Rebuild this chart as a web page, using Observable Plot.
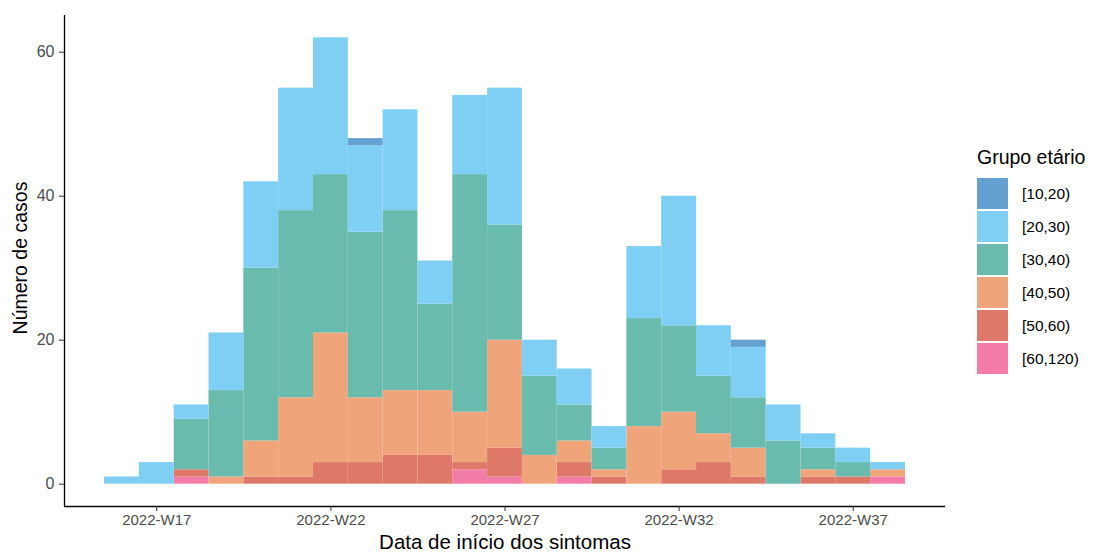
<!DOCTYPE html>
<html>
<head>
<meta charset="utf-8">
<script src="https://cdn.jsdelivr.net/npm/d3@7"></script>
<script src="https://cdn.jsdelivr.net/npm/@observablehq/plot@0.6"></script>
<style>
  html, body { margin: 0; padding: 0; background: #fff; }
  #wrap { position: relative; width: 1097px; height: 554px; font-family: "Liberation Sans", Arial, sans-serif; }
  #legend { position: absolute; left: 977px; top: 145px; }
  #legend .title { font-size: 19.5px; color: #000; height: 32px; line-height: 24px; }
  #legend .row { display: flex; align-items: center; height: 33px; }
  #legend .key { width: 31px; height: 31px; margin-right: 14px; }
  #legend .lab { font-size: 15.5px; color: #000; }
</style>
</head>
<body>
<div id="wrap"><div id="chart"></div><div id="legend"></div></div>
<script>
// Epidemiological weeks (2022)
const weeks = [16,17,18,19,20,21,22,23,24,25,26,27,28,29,30,31,32,33,34,35,36,37,38];
// Age groups (legend order: top of stack first)
const groups = ["[10,20)", "[20,30)", "[30,40)", "[40,50)", "[50,60)", "[60,120)"];
const groupColors = ["#64a0d0", "#7ecff3", "#69bbae", "#f0a47a", "#de7869", "#f47ca8"];
// Cases per week for each age group
const g10_20  = [0,0,0,0,0,0,0,1,0,0,0,0,0,0,0,0,0,0,1,0,0,0,0];
const g20_30  = [1,3,2,8,12,17,19,12,14,6,11,19,5,5,3,10,18,7,7,5,2,2,1];
const g30_40  = [0,0,7,12,24,26,22,23,25,12,33,16,11,5,3,15,12,8,7,6,3,2,0];
const g40_50  = [0,0,0,1,5,11,18,9,9,9,7,15,4,3,1,8,8,4,4,0,1,0,1];
const g50_60  = [0,0,1,0,1,1,3,3,4,4,1,4,0,2,1,0,2,3,1,0,1,1,0];
const g60_120 = [0,0,1,0,0,0,0,0,0,0,2,1,0,1,0,0,0,0,0,0,0,0,1];
const xTicks = [17,22,27,32,37];
const yTicks = [0,20,40,60];

const series = {"[10,20)": g10_20, "[20,30)": g20_30, "[30,40)": g30_40,
                "[40,50)": g40_50, "[50,60)": g50_60, "[60,120)": g60_120};
// stack from bottom ([60,120)) to top ([10,20))
const data = [];
[...groups].reverse().forEach(g => {
  series[g].forEach((n, i) => { if (n > 0) data.push({week: weeks[i], group: g, n}); });
});

const xDom = [14.35, 39.65];
const yDom = [-3.1, 65.1];

const chart = Plot.plot({
  width: 1097,
  height: 554,
  marginLeft: 64,
  marginRight: 152,
  marginTop: 15,
  marginBottom: 48,
  style: {fontFamily: "'Liberation Sans', Arial, sans-serif", background: "#fff"},
  x: {domain: xDom, axis: null},
  y: {domain: yDom, axis: null},
  color: {domain: groups, range: groupColors},
  marks: [
    Plot.rectY(data, Plot.stackY({x1: d => d.week - 0.5, x2: d => d.week + 0.5, y: "n", fill: "group"})),
    Plot.ruleX([xDom[0]], {stroke: "#000", strokeWidth: 1.3}),
    Plot.ruleY([yDom[0]], {stroke: "#000", strokeWidth: 1.3}),
    Plot.axisY({ticks: yTicks, tickSize: 5, tickPadding: 5, fontSize: 16, fill: "#4d4d4d", stroke: "#333", label: null}),
    Plot.axisX({ticks: xTicks, tickSize: 5, tickPadding: 3, fontSize: 15, fill: "#4d4d4d", stroke: "#333", label: null,
                tickFormat: d => `2022-W${d}`}),
    Plot.text(["Número de casos"], {frameAnchor: "left", textAnchor: "middle", lineAnchor: "middle",
                                    rotate: -90, dx: -44, dy: -3, fontSize: 19.5, fill: "#000"}),
    Plot.text(["Data de início dos sintomas"], {frameAnchor: "bottom", textAnchor: "middle", lineAnchor: "middle",
                                    dy: 36, fontSize: 20.5, fill: "#000"})
  ]
});
document.getElementById("chart").appendChild(chart);

const leg = document.getElementById("legend");
const t = document.createElement("div"); t.className = "title"; t.textContent = "Grupo etário"; leg.appendChild(t);
groups.forEach((g, i) => {
  const r = document.createElement("div"); r.className = "row";
  const k = document.createElement("div"); k.className = "key"; k.style.background = groupColors[i];
  const l = document.createElement("div"); l.className = "lab"; l.textContent = g;
  r.appendChild(k); r.appendChild(l); leg.appendChild(r);
});
</script>
</body>
</html>
